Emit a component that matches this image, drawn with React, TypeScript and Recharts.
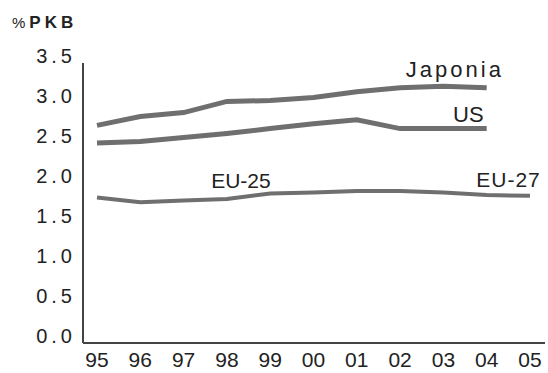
import { LineChart, Line, XAxis, YAxis, ReferenceDot } from 'recharts';

// lata (oś X)
const years = ['95', '96', '97', '98', '99', '00', '01', '02', '03', '04', '05'];

// wydatki na B+R, % PKB
const japonia = [2.72, 2.83, 2.88, 3.02, 3.03, 3.07, 3.14, 3.19, 3.21, 3.19, null];
const us = [2.5, 2.52, 2.57, 2.62, 2.68, 2.74, 2.79, 2.68, 2.68, 2.68, null];
const eu = [1.82, 1.76, 1.78, 1.8, 1.87, 1.88, 1.9, 1.9, 1.88, 1.85, 1.84];

const yTicks = [0, 0.5, 1, 1.5, 2, 2.5, 3, 3.5];

const data = years.map((y, i) => ({
  year: y,
  japonia: japonia[i],
  us: us[i],
  eu: eu[i],
}));

const FONT = '"Liberation Sans", Arial, sans-serif';
const LINE = '#6f6f6f';

// etykiety serii: [x, y, przesunięcie w px, tekst, odstęp liter]
const seriesLabels: { x: string; y: number; dx: number; text: string; spacing: number; size: number }[] = [
  { x: '03', y: 3.325, dx: 10, text: 'Japonia', spacing: 3, size: 22 },
  { x: '03', y: 2.7625, dx: 25, text: 'US', spacing: 0, size: 22 },
  { x: '98', y: 1.9375, dx: 14, text: 'EU-25', spacing: 0, size: 21 },
  { x: '05', y: 1.95, dx: -22, text: 'EU-27', spacing: 1, size: 21 },
];

const YTick = ({ x, y, payload }: any) => (
  <text x={x} y={y} textAnchor="end" fontFamily={FONT} fontSize={20} letterSpacing={4} fill="#222">
    {Number(payload.value).toFixed(1)}
  </text>
);

const XTick = ({ x, y, payload }: any) => (
  <text x={x} y={y + 16} textAnchor="middle" fontFamily={FONT} fontSize={21} fill="#222">
    {payload.value}
  </text>
);

export default function App() {
  return (
    <div style={{ position: 'absolute', left: 0, top: 0, width: 548, height: 373, background: '#fff' }}>
      <svg width={548} height={40} style={{ position: 'absolute', left: 0, top: 0 }}>
        <text x={12} y={28} fontFamily={FONT} fill="#222">
          <tspan fontSize={15}>%</tspan>
          <tspan dx={4} fontSize={17} fontWeight="bold" letterSpacing={4}>PKB</tspan>
        </text>
      </svg>
      <LineChart width={548} height={373} data={data} margin={{ top: 63, right: 3, bottom: 0, left: 0 }}>
        <XAxis
          dataKey="year"
          padding={{ left: 14, right: 15 }}
          height={30}
          tickLine={false}
          axisLine={{ stroke: '#444', strokeWidth: 2 }}
          tick={<XTick />}
          interval={0}
        />
        <YAxis
          domain={[0, 3.5]}
          ticks={yTicks}
          width={83}
          tickLine={false}
          tickSize={6}
          tickMargin={1}
          axisLine={{ stroke: '#444', strokeWidth: 2 }}
          tick={<YTick />}
        />
        <Line dataKey="japonia" stroke={LINE} strokeWidth={5} dot={false} isAnimationActive={false} type="linear" />
        <Line dataKey="us" stroke={LINE} strokeWidth={5} dot={false} isAnimationActive={false} type="linear" />
        <Line dataKey="eu" stroke={LINE} strokeWidth={4} dot={false} isAnimationActive={false} type="linear" />
        {seriesLabels.map((l) => (
          <ReferenceDot
            key={l.text}
            x={l.x}
            y={l.y}
            r={0}
            fill="none"
            stroke="none"
            ifOverflow="visible"
            label={(p: any) => (
              <text
                x={p.viewBox.x + p.viewBox.width / 2 + l.dx + l.spacing / 2}
                y={p.viewBox.y + p.viewBox.height / 2}
                textAnchor="middle"
                fontFamily={FONT}
                fontSize={l.size}
                letterSpacing={l.spacing}
                fill="#222"
              >
                {l.text}
              </text>
            )}
          />
        ))}
      </LineChart>
    </div>
  );
}
